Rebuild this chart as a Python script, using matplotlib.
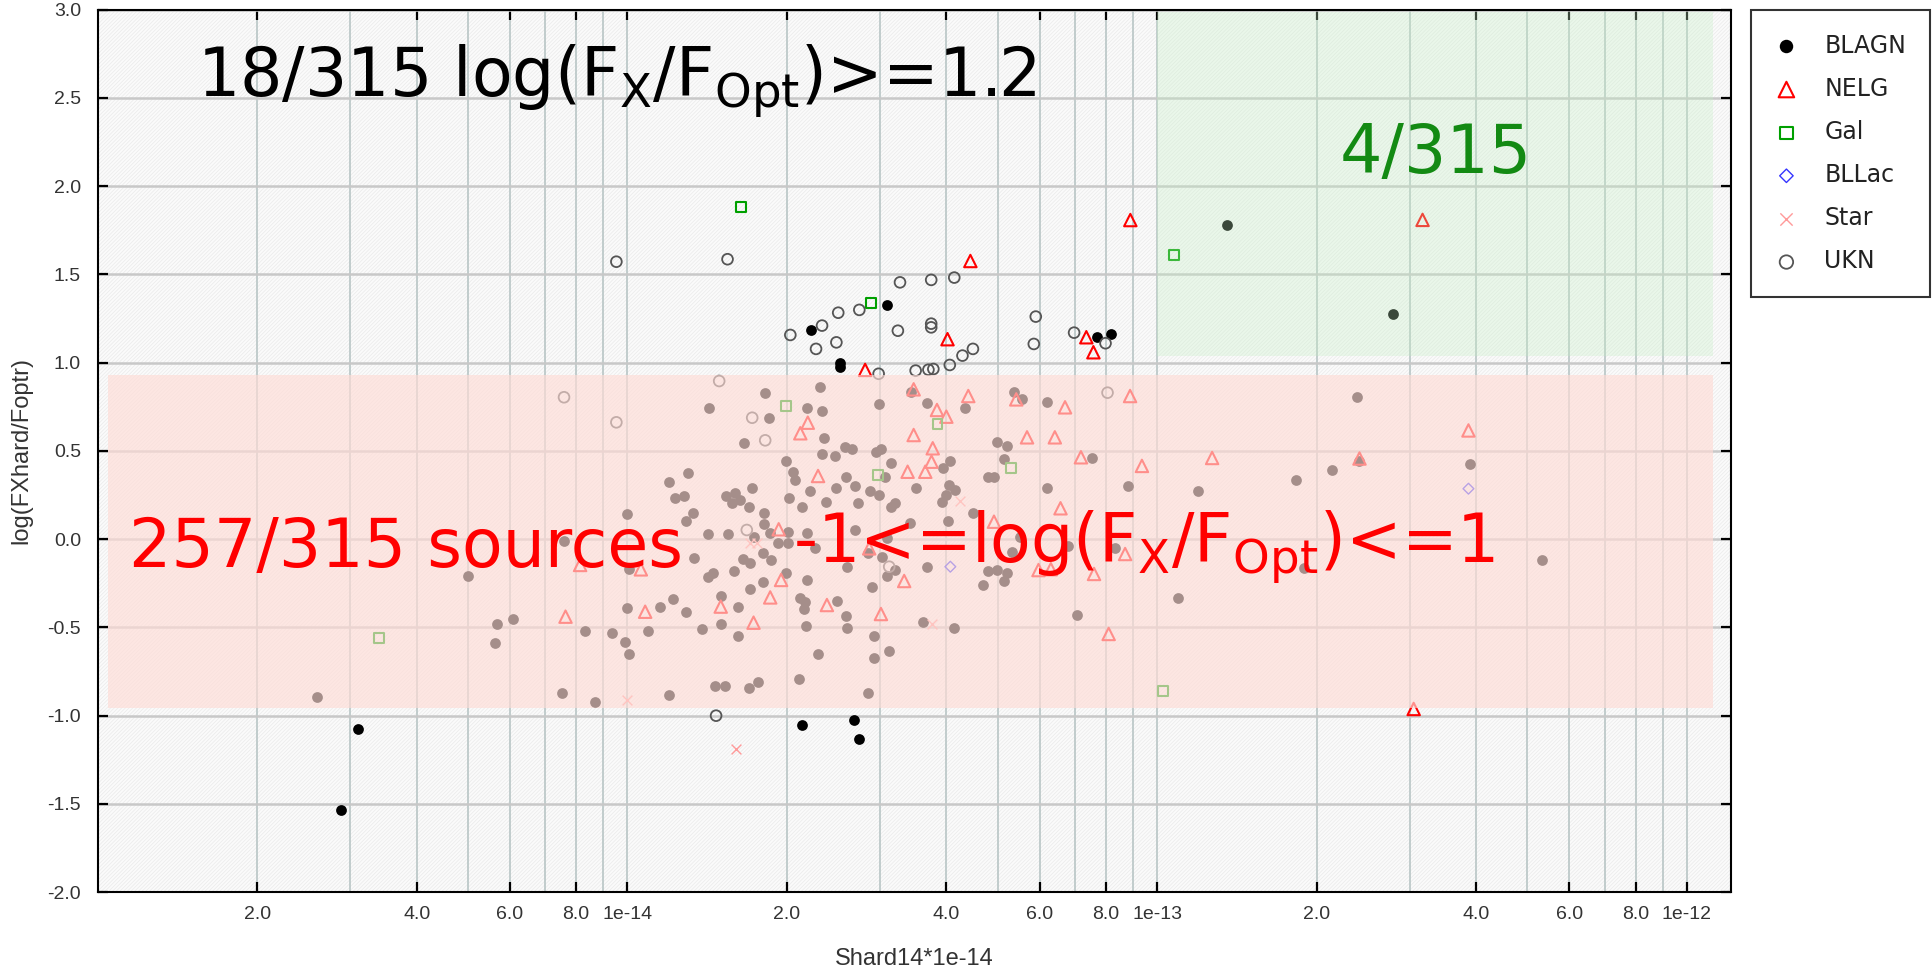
import numpy as np
import matplotlib
matplotlib.use("Agg")
import matplotlib.pyplot as plt
from matplotlib.patches import Rectangle
from matplotlib.ticker import FixedLocator, FixedFormatter, NullFormatter

plt.rcParams['axes.unicode_minus'] = False
plt.rcParams['hatch.linewidth'] = 0.6

# ---- DATA (Shard14 in units of 1e-14, log(FXhard/Foptr)) ----
blagn_s14 = [0.288, 0.31, 2.14, 2.68, 2.74, 2.22, 2.52, 2.52, 3.09, 7.69, 8.2, 13.55, 27.9,
             0.259, 0.499, 0.567, 0.609, 0.562, 0.752, 0.870, 1.197, 0.832, 0.936, 0.989, 1.005, 1.092,
             0.999, 1.154, 1.219, 1.288, 0.758, 0.999, 1.005, 1.199, 1.30, 1.229, 1.277, 1.288, 1.332, 1.334,
             1.424, 1.82, 1.85, 1.66, 2.31, 2.18, 2.33, 2.35, 2.33, 2.46, 1.99, 2.05, 2.07, 2.21, 2.02,
             2.14, 2.37, 2.48, 2.59, 1.72, 1.533, 1.597, 1.575, 1.632, 1.698, 1.81, 1.81, 1.42, 1.547,
             1.735, 1.86, 1.656, 1.70, 1.806, 1.87, 1.92, 2.01, 2.01, 1.99, 2.18, 2.26, 2.18, 1.586, 1.42,
             1.45, 1.70, 1.806, 1.503, 1.617, 1.503, 1.382, 1.62, 2.12, 2.165, 2.15, 2.175, 2.49, 2.29,
             2.59, 2.60, 2.11, 1.767, 1.693, 1.46, 1.525,
             2.98, 3.43, 3.67, 4.33, 5.36, 5.56, 6.19, 2.58, 2.65, 2.95, 3.01, 3.14, 2.69, 2.87, 2.98,
             3.07, 2.72, 3.2, 3.15, 3.51, 3.95, 4.07, 4.04, 4.16, 4.0, 3.92, 3.41, 4.02, 2.69, 3.09, 2.85,
             3.02, 2.60, 3.09, 3.20, 3.67, 2.90, 2.92, 3.12, 2.92, 3.61, 4.14, 2.85, 4.50, 4.98, 5.21,
             5.15, 4.80, 4.93, 5.51, 5.31, 4.80, 4.98, 5.21, 5.15, 4.70, 6.19, 7.55, 8.81, 6.79, 8.33, 7.07,
             18.3, 21.4, 11.93, 10.93, 18.97, 23.8, 24.1, 39.0, 53.3]
blagn_logr = [-1.535, -1.077, -1.051, -1.026, -1.134, 1.184, 1.0, 0.975, 1.327, 1.144, 1.163, 1.78, 1.273,
              -0.896, -0.209, -0.480, -0.454, -0.586, -0.870, -0.922, -0.885, -0.520, -0.533, -0.582, -0.649, -0.520,
              -0.391, -0.382, -0.339, -0.414, -0.010, 0.143, -0.171, 0.326, 0.377, 0.235, 0.246, 0.103, 0.147, -0.108,
              0.742, 0.830, 0.688, 0.547, 0.860, 0.742, 0.728, 0.572, 0.481, 0.471, 0.445, 0.378, 0.335, 0.275, 0.232,
              0.184, 0.209, 0.288, 0.351, 0.288, 0.245, 0.264, 0.203, 0.222, 0.184, 0.147, 0.086, 0.028, 0.028,
              0.014, 0.033, -0.114, -0.133, -0.076, -0.118, -0.023, 0.043, -0.023, -0.190, 0.033, -0.052, -0.231, -0.178, -0.216,
              -0.193, -0.284, -0.244, -0.322, -0.386, -0.480, -0.507, -0.547, -0.335, -0.354, -0.397, -0.492, -0.348, -0.650,
              -0.435, -0.505, -0.792, -0.807, -0.845, -0.832, -0.832,
              0.766, 0.836, 0.770, 0.742, 0.836, 0.793, 0.779, 0.524, 0.509, 0.496, 0.509, 0.430, 0.301, 0.275, 0.250,
              0.351, 0.207, 0.207, 0.181, 0.288, 0.402, 0.445, 0.307, 0.279, 0.251, 0.209, 0.094, 0.105, 0.052, 0.005, -0.076,
              -0.099, -0.156, -0.209, -0.175, -0.156, -0.273, -0.547, -0.633, -0.675, -0.467, -0.505, -0.870, 0.147, 0.552, 0.528,
              0.453, 0.351, 0.351, 0.014, -0.071, -0.178, -0.175, -0.193, -0.235, -0.260, 0.288, 0.458, 0.301, -0.039, -0.052, -0.430,
              0.335, 0.392, 0.275, -0.335, -0.165, 0.807, 0.444, 0.427, -0.120]

nelg_s14 = [4.44, 8.90, 4.02, 7.35, 7.58, 2.81, 31.7, 30.5,
            12.7, 24.1, 38.7, 3.47, 4.40, 5.42, 6.70, 8.89, 3.84, 4.0, 2.19, 2.12, 3.47, 5.68, 6.41, 3.77,
            3.75, 3.38, 3.65, 2.29, 7.18, 9.36, 6.57, 4.92, 1.93, 2.86, 8.70, 5.97, 6.3, 7.60, 3.33, 1.95,
            1.86, 2.38, 1.50, 3.01, 1.73, 8.10, 0.814, 1.06, 1.08, 0.764]
nelg_logr = [1.576, 1.808, 1.133, 1.144, 1.059, 0.959, 1.809, -0.962,
             0.46, 0.457, 0.616, 0.849, 0.811, 0.792, 0.747, 0.811, 0.732, 0.694, 0.660, 0.600, 0.590, 0.577, 0.577, 0.515,
             0.439, 0.382, 0.382, 0.358, 0.464, 0.415, 0.175, 0.099, 0.056, -0.052, -0.084, -0.175, -0.17, -0.197, -0.237, -0.231,
             -0.330, -0.373, -0.382, -0.424, -0.473, -0.537, -0.146, -0.171, -0.411, -0.439]

gal_s14 = [1.64, 2.88, 10.77, 0.34, 1.99, 3.85, 2.97, 5.29, 10.25]
gal_logr = [1.882, 1.340, 1.610, -0.561, 0.755, 0.652, 0.364, 0.405, -0.858]

bllac_s14 = [4.07, 38.7]
bllac_logr = [-0.156, 0.286]

star_s14 = [1.60, 1.0, 1.70, 1.76, 4.25, 3.75]
star_logr = [-1.19, -0.911, -0.02, -0.02, 0.215, -0.481]

ukn_s14 = [0.953, 1.545, 3.27, 3.745, 4.14, 2.50, 2.74, 2.33, 2.03, 2.27, 2.48, 3.24, 3.745, 3.745, 4.49,
           4.29, 4.06, 3.78, 3.70, 3.50, 2.98, 5.90, 5.85, 6.97, 7.99, 1.47,
           0.759, 0.953, 1.49, 1.72, 1.82, 1.68, 8.06, 3.12]
ukn_logr = [1.572, 1.586, 1.455, 1.469, 1.482, 1.283, 1.299, 1.210, 1.157, 1.078, 1.115, 1.181, 1.221, 1.20, 1.078,
            1.040, 0.987, 0.964, 0.96, 0.955, 0.937, 1.261, 1.106, 1.170, 1.110, -1.0,
            0.804, 0.662, 0.896, 0.688, 0.560, 0.052, 0.830, -0.156]

# selection boxes (Shard14 units, log ratio)
mid_box = (0.1044, 112.2, -0.955, 0.93)
high_box = (10.0, 112.2, 1.035, 2.985)

x_ticks = [0.2, 0.4, 0.6, 0.8, 1, 2, 4, 6, 8, 10, 20, 40, 60, 80, 100]
x_tick_labels = ['2.0', '4.0', '6.0', '8.0', '1e-14', '2.0', '4.0', '6.0', '8.0', '1e-13',
                 '2.0', '4.0', '6.0', '8.0', '1e-12']
x_grid_only = [0.3, 0.5, 0.7, 0.9, 3, 5, 7, 9, 30, 50, 70, 90]
y_ticks = [-2.0, -1.5, -1.0, -0.5, 0.0, 0.5, 1.0, 1.5, 2.0, 2.5, 3.0]

unit = 1e-14

fig = plt.figure(figsize=(19.32, 9.74), dpi=100)
ax = fig.add_axes([0.0506, 0.0840, 0.8452, 0.9061])
ax.set_xscale('log')
ax.set_xlim(1e-15, 1.21e-12)
ax.set_ylim(-2.0, 3.0)
ax.set_facecolor('#fbfbfb')
ax.add_patch(Rectangle((0, 0), 1, 1, transform=ax.transAxes, facecolor='none',
                       edgecolor='#ececec', hatch='/' * 9, lw=0, zorder=0.2))

ax.xaxis.set_major_locator(FixedLocator(np.array(x_ticks) * unit))
ax.xaxis.set_major_formatter(FixedFormatter(x_tick_labels))
ax.xaxis.set_minor_locator(FixedLocator(np.array(x_grid_only) * unit))
ax.xaxis.set_minor_formatter(NullFormatter())
ax.yaxis.set_major_locator(FixedLocator(y_ticks))
ax.yaxis.set_major_formatter(FixedFormatter([f'{v:.1f}' for v in y_ticks]))

ax.set_axisbelow(True)
ax.xaxis.grid(True, which='both', color='#b3c1c1', lw=1.1)
ax.yaxis.grid(True, which='major', color='#c8c8c8', lw=1.8)

ax.tick_params(which='major', direction='in', length=7, width=1.6, top=True, right=True,
               labelsize=14, labelcolor='#333333', color='black')
ax.tick_params(axis='y', pad=12)
ax.tick_params(axis='x', pad=10)
ax.tick_params(which='minor', length=0)
for sp in ax.spines.values():
    sp.set_linewidth(1.5)
for lab in ax.get_xticklabels() + ax.get_yticklabels():
    lab.set_family(['Liberation Sans', 'DejaVu Sans'])

# points
ax.scatter(np.array(blagn_s14) * unit, blagn_logr, s=60, c='black', marker='o', lw=0,
           label='BLAGN', zorder=3)
ax.scatter(np.array(nelg_s14) * unit, nelg_logr, s=80, facecolors='none', edgecolors='red',
           marker='^', lw=1.5, label='NELG', zorder=3)
ax.scatter(np.array(gal_s14) * unit, gal_logr, s=50, facecolors='none', edgecolors='#00a000',
           marker='s', lw=1.5, label='Gal', zorder=3)
ax.scatter(np.array(bllac_s14) * unit, bllac_logr, s=30, facecolors='none', edgecolors='#3535ff',
           marker='D', lw=1.0, label='BLLac', zorder=3)
ax.scatter(np.array(star_s14) * unit, star_logr, s=50, c='#ff9a9a', marker='x', lw=1.0,
           label='Star', zorder=3)
ax.scatter(np.array(ukn_s14) * unit, ukn_logr, s=60, facecolors='none', edgecolors='#555555',
           marker='o', lw=1.3, label='UKN', zorder=3)

# shaded selections drawn over the points
x0, x1, y0, y1 = mid_box
ax.add_patch(Rectangle((x0 * unit, y0), (x1 - x0) * unit, y1 - y0, facecolor='#ffdcd6',
                       alpha=0.65, lw=0, zorder=4))
x0, x1, y0, y1 = high_box
ax.add_patch(Rectangle((x0 * unit, y0), (x1 - x0) * unit, y1 - y0, facecolor='#c4f0c4',
                       alpha=0.3, lw=0, zorder=4))

big = dict(transform=ax.transAxes, fontsize=48, ha='left', va='baseline', zorder=6,
           family='DejaVu Sans')
ax.text(0.061, 0.9014, r'18/315 log(F$_\mathregular{X}$/F$_\mathregular{Opt}$)>=1.2',
        color='black', **big)
ax.text(0.7608, 0.8150, '4/315', color='#138a13', **big)
ax.text(0.0190, 0.3689, '257/315 sources', color='red', **big)
ax.text(0.4256, 0.3727, r'-1<=log(F$_\mathregular{X}$/F$_\mathregular{Opt}$)<=1', color='red', **big)

ax.set_xlabel('Shard14*1e-14', fontsize=17, color='#333333', family=['Liberation Sans', 'DejaVu Sans'])
ax.set_ylabel('log(FXhard/Foptr)', fontsize=17, color='#333333', family=['Liberation Sans', 'DejaVu Sans'])
ax.xaxis.set_label_coords(0.5, -0.063)
ax.yaxis.set_label_coords(-0.040, 0.5)

handles, labels = ax.get_legend_handles_labels()
leg = fig.legend(handles, labels, loc='upper left', bbox_to_anchor=(1751 / 1932, 1 - 10 / 974),
                 frameon=True, fancybox=False, edgecolor='black', fontsize=17, borderpad=1.0,
                 labelspacing=0.81, handlelength=1.0, handletextpad=1.1, borderaxespad=0,
                 scatterpoints=1, markerscale=1.25)
leg.get_frame().set_linewidth(1.5)
for t in leg.get_texts():
    t.set_color('#222222')

fig.savefig('out.png', dpi=100)
